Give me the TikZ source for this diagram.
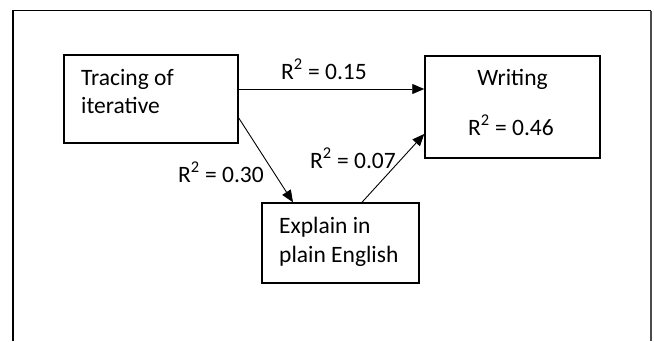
\documentclass[tikz,border=0pt]{standalone}
\usepackage{fontspec}
\setmainfont{Carlito}
\usetikzlibrary{arrows.meta}
\begin{document}
\begin{tikzpicture}[x=1pt,y=1pt,
  box/.style={draw=black,line width=1.5pt,minimum width=#1,inner sep=0pt},
  txt/.style={anchor=base west,inner sep=0pt,font=\fontsize{23.5}{28}\selectfont},
  ctxt/.style={anchor=base,inner sep=0pt,font=\fontsize{23.5}{28}\selectfont},
  conn/.style={line width=0.9pt,-{Triangle[length=12pt,width=10pt]}}]
\useasboundingbox (0,0) rectangle (654,-341);
\draw[line width=1.1pt] (13,-341) -- (13,-10.5) -- (651,-10.5);
\draw[line width=1.1pt,black!70] (651,-10.5) -- (651,-341);
% boxes
\node[box=174pt,minimum height=88pt] (tracing) at (151,-99) {};
\node[box=175pt,minimum height=102pt] (writing) at (512.5,-107) {};
\node[box=157pt,minimum height=80pt] (explain) at (340.5,-243) {};
% box texts
\node[txt] (t1) at (81,-85) {Tracing of};
\node[txt] (t2) at (81,-113) {iterative};
\node[ctxt] (w1) at (512.5,-85) {Writing};
\node[ctxt] (w2) at (511,-135) {R\textsuperscript{2} = 0.46};
\node[txt] (e1) at (279,-233) {Explain in};
\node[txt] (e2) at (279,-262) {plain English};
% connectors
\draw[conn] ([yshift=10pt]tracing.east) -- ([yshift=18pt]writing.west);
\draw[conn] ([yshift=-19pt]tracing.east) -- ([xshift=-47.5pt]explain.north);
\draw[conn] ([xshift=21.5pt]explain.north) -- ([yshift=-27pt]writing.west);
% labels
\node[txt] (l1) at (281,-79) {R\textsuperscript{2} = 0.15};
\node[txt] (l2) at (178,-182) {R\textsuperscript{2} = 0.30};
\node[txt] (l3) at (310,-168) {R\textsuperscript{2} = 0.07};
\end{tikzpicture}
\end{document}
